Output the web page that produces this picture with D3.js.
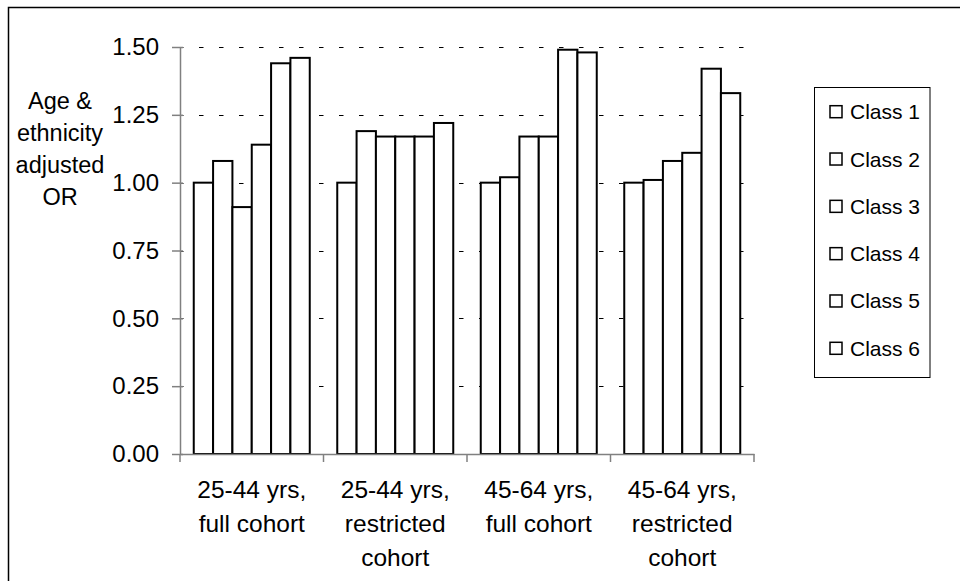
<!DOCTYPE html>
<html>
<head>
<meta charset="utf-8">
<script src="https://cdn.jsdelivr.net/npm/d3@7/dist/d3.min.js"></script>
<style>
  html, body { margin: 0; padding: 0; background: #fff; }
  svg { display: block; font-family: "Liberation Sans", Arial, sans-serif; }
</style>
</head>
<body>
<svg id="chart" width="960" height="581"></svg>
<script>
// Age groups / cohorts along the x axis
const categories = [
  ["25-44 yrs,", "full cohort"],
  ["25-44 yrs,", "restricted", "cohort"],
  ["45-64 yrs,", "full cohort"],
  ["45-64 yrs,", "restricted", "cohort"]
];
const classes = ["Class 1", "Class 2", "Class 3", "Class 4", "Class 5", "Class 6"];

// Adjusted odds ratios, one array per class, one value per category
const class1 = [1.00, 1.00, 1.00, 1.00];
const class2 = [1.08, 1.19, 1.02, 1.01];
const class3 = [0.91, 1.17, 1.17, 1.08];
const class4 = [1.14, 1.17, 1.17, 1.11];
const class5 = [1.44, 1.17, 1.49, 1.42];
const class6 = [1.46, 1.22, 1.48, 1.33];

const yTicks = [0, 0.25, 0.5, 0.75, 1.0, 1.25, 1.5];
const yTitle = ["Age &", "ethnicity", "adjusted", "OR"];

const series = [class1, class2, class3, class4, class5, class6];
const catKeys = categories.map((c, i) => i);

const svg = d3.select("#chart");

// Outer frame (top and left edges show)
svg.append("rect")
  .attr("x", 8.5).attr("y", 7.5)
  .attr("width", 980).attr("height", 600)
  .attr("fill", "none").attr("stroke", "#000").attr("stroke-width", 1.5);

const plot = { left: 180, right: 754, top: 47, bottom: 454 };

const y = d3.scaleLinear().domain([0, 1.5]).range([plot.bottom, plot.top]);
const x0 = d3.scaleBand().domain(catKeys).range([plot.left, plot.right]);
const inset = 13.75;
const x1 = d3.scaleBand().domain(d3.range(classes.length))
  .range([inset, x0.bandwidth() - inset]);

// Dashed horizontal gridlines
svg.append("g")
  .selectAll("line")
  .data(yTicks.filter(t => t > 0))
  .join("line")
  .attr("x1", plot.left).attr("x2", plot.right)
  .attr("y1", d => Math.round(y(d)) + 0.5).attr("y2", d => Math.round(y(d)) + 0.5)
  .attr("stroke", "#000")
  .attr("stroke-dasharray", "4.5,15.5")
  .attr("stroke-dashoffset", -19);

// Bars
const groups = svg.append("g")
  .selectAll("g")
  .data(catKeys)
  .join("g")
  .attr("transform", d => `translate(${x0(d)},0)`);

groups.selectAll("rect")
  .data(ci => series.map((s, si) => ({ si, v: s[ci] })))
  .join("rect")
  .attr("x", d => x1(d.si))
  .attr("y", d => y(d.v))
  .attr("width", x1.bandwidth())
  .attr("height", d => y(0) - y(d.v))
  .attr("fill", "#fff")
  .attr("stroke", "#000")
  .attr("stroke-width", 2);

// Y axis
const yAxis = svg.append("g")
  .attr("transform", `translate(${plot.left},0)`)
  .call(d3.axisLeft(y).tickValues(yTicks).tickFormat(d3.format(".2f"))
    .tickSizeInner(8).tickSizeOuter(0).tickPadding(13));
yAxis.select(".domain").attr("stroke", "#808080").attr("stroke-width", 1.5);
yAxis.selectAll(".tick line").attr("stroke", "#808080").attr("stroke-width", 1.5)
  .attr("x2", 3).attr("x1", -8);
yAxis.selectAll(".tick text")
  .attr("font-size", 24).attr("fill", "#000")
  .attr("font-family", "Liberation Sans, Arial, sans-serif");

// X axis
const xAxis = svg.append("g")
  .attr("transform", `translate(0,${plot.bottom})`)
  .call(d3.axisBottom(x0).tickValues([]).tickSizeOuter(0));
xAxis.select(".domain").attr("stroke", "#808080").attr("stroke-width", 1.5);
xAxis.selectAll(".sep")
  .data(d3.range(categories.length + 1))
  .join("line")
  .attr("class", "sep")
  .attr("x1", i => i < categories.length ? x0(i) : x0(i - 1) + x0.bandwidth())
  .attr("x2", i => i < categories.length ? x0(i) : x0(i - 1) + x0.bandwidth())
  .attr("y1", 0).attr("y2", 8)
  .attr("stroke", "#808080").attr("stroke-width", 1.5);

// Category labels
svg.append("g")
  .selectAll("text")
  .data(catKeys)
  .join("text")
  .attr("text-anchor", "middle")
  .attr("font-size", 24.5)
  .attr("fill", "#000")
  .attr("x", d => x0(d) + x0.bandwidth() / 2)
  .attr("y", 498)
  .selectAll("tspan")
  .data(d => categories[d])
  .join("tspan")
  .attr("x", function () { return d3.select(this.parentNode).attr("x"); })
  .attr("dy", (d, i) => i === 0 ? 0 : 34)
  .text(d => d);

// Y axis title
svg.append("text")
  .attr("text-anchor", "middle")
  .attr("font-size", 23.5)
  .attr("fill", "#000")
  .attr("y", 109)
  .selectAll("tspan")
  .data(yTitle)
  .join("tspan")
  .attr("x", 60)
  .attr("dy", (d, i) => i === 0 ? 0 : 32)
  .text(d => d);

// Legend
const legend = svg.append("g");
legend.append("rect")
  .attr("x", 814.5).attr("y", 87.5)
  .attr("width", 115.5).attr("height", 290)
  .attr("fill", "#fff").attr("stroke", "#000").attr("stroke-width", 1);

const ly = d3.scalePoint().domain(classes).range([111.7, 348.3]);
const items = legend.selectAll("g.item")
  .data(classes)
  .join("g")
  .attr("class", "item")
  .attr("transform", d => `translate(0,${ly(d)})`);
items.append("rect")
  .attr("x", 830).attr("y", -6)
  .attr("width", 12).attr("height", 12)
  .attr("fill", "#fff").attr("stroke", "#000").attr("stroke-width", 1.5);
items.append("text")
  .attr("x", 850).attr("y", 7.5)
  .attr("font-size", 21)
  .attr("fill", "#000")
  .text(d => d);
</script>
</body>
</html>
